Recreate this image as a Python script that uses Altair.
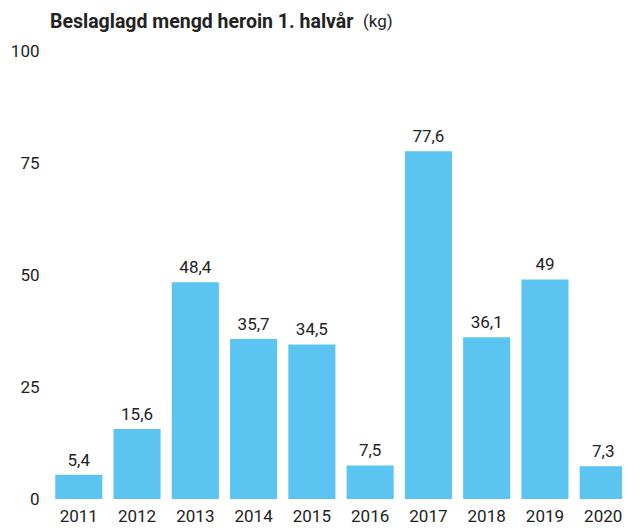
import altair as alt
import pandas as pd

years = ["2011", "2012", "2013", "2014", "2015", "2016", "2017", "2018", "2019", "2020"]
values = [5.4, 15.6, 48.4, 35.7, 34.5, 7.5, 77.6, 36.1, 49, 7.3]
labels = ["5,4", "15,6", "48,4", "35,7", "34,5", "7,5", "77,6", "36,1", "49", "7,3"]
y_ticks = [0, 25, 50, 75, 100]

df = pd.DataFrame({"year": years, "value": values, "label": labels})

FONT = "Roboto"
TXT = "#222222"

x = alt.X("year:N", sort=years, title=None,
          scale=alt.Scale(paddingInner=0.192, paddingOuter=0.09),
          axis=alt.Axis(labelAngle=0, ticks=False, domain=False, labelPadding=9,
                        labelFontSize=17, labelColor=TXT, labelFont=FONT))
y = alt.Y("value:Q", title=None,
          scale=alt.Scale(domain=[0, 100], nice=False),
          axis=alt.Axis(values=y_ticks, grid=False, ticks=False, domain=False,
                        labelPadding=11, labelFontSize=17, labelColor=TXT, labelFont=FONT))

base = alt.Chart(df)
bars = base.mark_bar(color="#5BC4F0").encode(x=x, y=y)
text = base.mark_text(baseline="bottom", dy=-5, fontSize=17, color=TXT, font=FONT).encode(
    x=alt.X("year:N", sort=years), y="value:Q", text="label:N")
title = alt.Chart(pd.DataFrame({"t": ["Beslaglagd mengd heroin 1. halvår"]})).mark_text(
    align="left", baseline="middle", fontSize=19.5, fontWeight="bold", color=TXT, font=FONT
).encode(x=alt.value(0), y=alt.value(-29), text="t:N")
unit = alt.Chart(pd.DataFrame({"t": ["(kg)"]})).mark_text(
    align="left", baseline="middle", fontSize=17, color=TXT, font=FONT
).encode(x=alt.value(313), y=alt.value(-29), text="t:N")

chart = alt.layer(bars, text, title, unit).properties(
    width=582, height=448,
    autosize=alt.AutoSizeParams(type="none"),
    padding={"left": 42, "top": 43, "right": -10, "bottom": 30},
).configure_view(stroke=None)

chart.save("out.html", embed_options={"renderer": "svg", "actions": False})
